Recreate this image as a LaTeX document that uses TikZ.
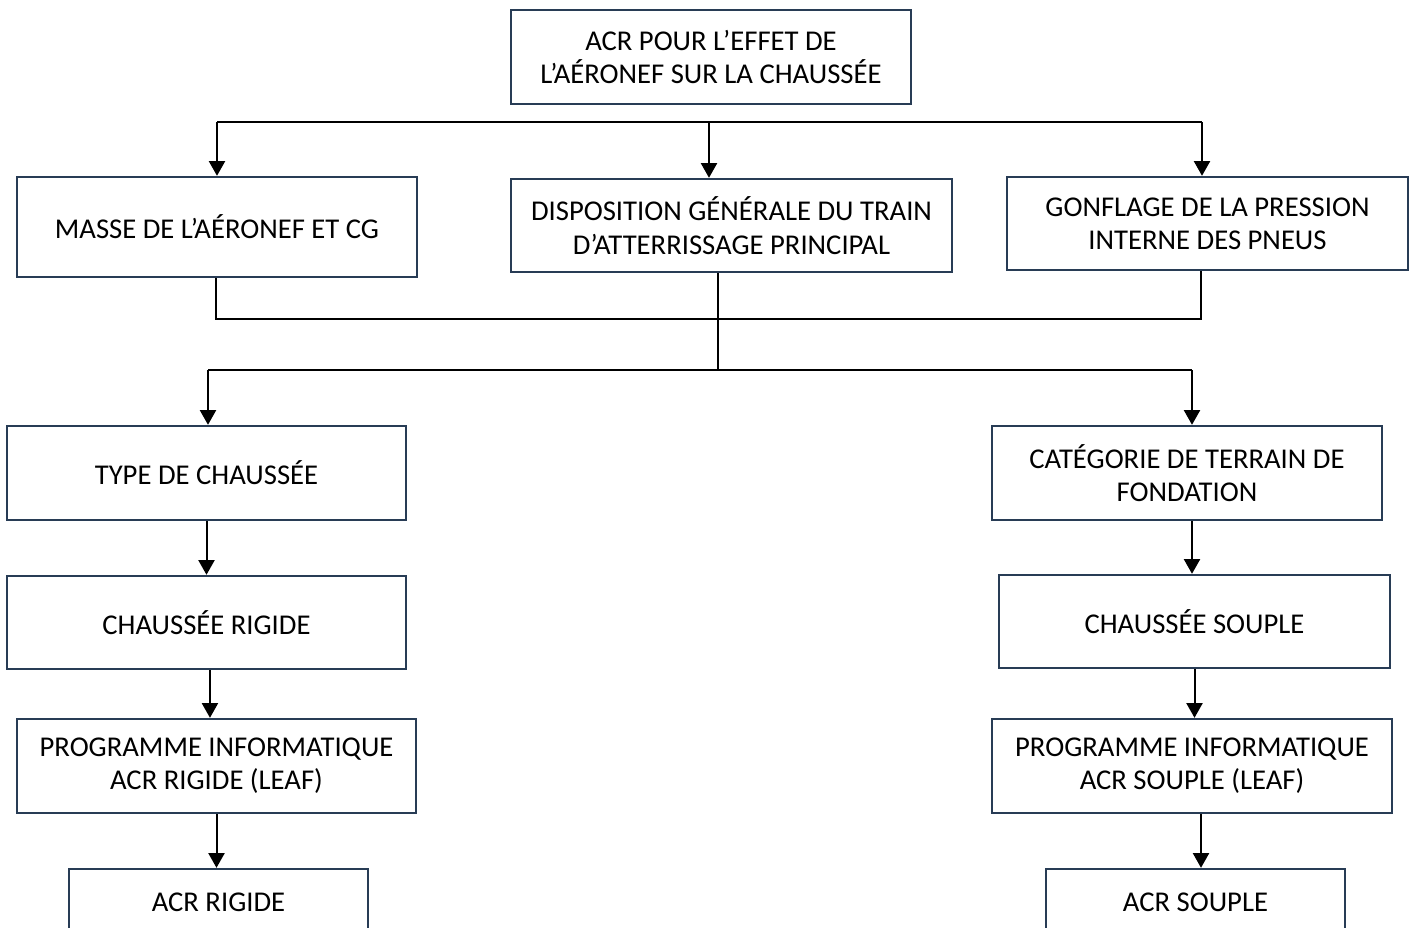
\documentclass[tikz,border=0pt]{standalone}
\usepackage{fontspec}
\setmainfont{Carlito}
\usetikzlibrary{arrows.meta}
\definecolor{boxblue}{RGB}{40,60,85}
\tikzset{
    box/.style = {rectangle, draw=boxblue, line width=1.8pt, align=center, inner sep=0pt, font=\fontsize{21.5}{25}\selectfont},
    link/.style = {line width=1.5pt, black},
    arrowd/.style = {-{Triangle[width=12pt,length=11pt]}, line width=1.5pt, black},
}

\begin{document}
\begin{tikzpicture}[x=0.75pt,y=-0.75pt]
\clip (0,0) rectangle (1410,928);
\node[box, minimum width=300pt, minimum height=70.5pt] at (711,57) (acr) {ACR POUR L’EFFET DE\\L’AÉRONEF SUR LA CHAUSSÉE};
\node[box, minimum width=300pt, minimum height=75pt] at (217,227) (masse) {MASSE DE L’AÉRONEF ET CG};
\node[box, minimum width=330.75pt, minimum height=69.75pt] at (731.5,225.5) (disp) {DISPOSITION GÉNÉRALE DU TRAIN\\D’ATTERRISSAGE PRINCIPAL};
\node[box, minimum width=300.75pt, minimum height=69.75pt] at (1207.5,223.5) (gonfl) {GONFLAGE DE LA PRESSION\\INTERNE DES PNEUS};
\node[box, minimum width=299.25pt, minimum height=70.5pt] at (206.5,473) (type) {TYPE DE CHAUSSÉE};
\node[box, minimum width=292.5pt, minimum height=70.5pt] at (1187,473) (categ) {CATÉGORIE DE TERRAIN DE\\FONDATION};
\node[box, minimum width=299.25pt, minimum height=69.75pt] at (206.5,622.5) (rigide) {CHAUSSÉE RIGIDE};
\node[box, minimum width=293.25pt, minimum height=69.75pt] at (1194.5,621.5) (souple) {CHAUSSÉE SOUPLE};
\node[box, minimum width=299.25pt, minimum height=70.5pt] at (216.5,766) (progr) {PROGRAMME INFORMATIQUE\\ACR RIGIDE (LEAF)};
\node[box, minimum width=300pt, minimum height=70.5pt] at (1192,766) (progs) {PROGRAMME INFORMATIQUE\\ACR SOUPLE (LEAF)};
\node[box, minimum width=224.25pt, minimum height=49.5pt] at (218.5,902) (acrr) {ACR RIGIDE};
\node[box, minimum width=224.25pt, minimum height=49.5pt] at (1195.5,902) (acrs) {ACR SOUPLE};
%
\coordinate (s1) at (217,122);
\coordinate (s2) at (709,122);
\coordinate (s3) at (1202,122);
\draw[link] (s1) -- (s3);
\draw[arrowd] (s1) -- (s1 |- masse.north);
\draw[arrowd] (s2) -- (s2 |- disp.north);
\draw[arrowd] (s3) -- (s3 |- gonfl.north);
%
\coordinate (c1) at (216,319);
\coordinate (c3) at (1201,319);
\draw[link] (c1 |- masse.south) -- (c1) -- (c3) -- (c3 |- gonfl.south);
\coordinate (m) at (718,370);
\draw[link] (m |- disp.south) -- (m);
\coordinate (d1) at (208,370);
\coordinate (d2) at (1192,370);
\draw[link] (d1) -- (d2);
\draw[arrowd] (d1) -- (d1 |- type.north);
\draw[arrowd] (d2) -- (d2 |- categ.north);
%
\draw[arrowd] (type) -- (rigide);
\draw[arrowd] ([xshift=2.6pt]rigide.south) -- ([xshift=2.6pt]rigide.south |- progr.north);
\draw[arrowd] (progr.south) -- (progr.south |- acrr.north);
\draw[arrowd] ([xshift=3.75pt]categ.south) -- ([xshift=3.75pt]categ.south |- souple.north);
\draw[arrowd] (souple.south) -- (souple.south |- progs.north);
\draw[arrowd] ([xshift=6.75pt]progs.south) -- ([xshift=6.75pt]progs.south |- acrs.north);
\end{tikzpicture}
\end{document}
